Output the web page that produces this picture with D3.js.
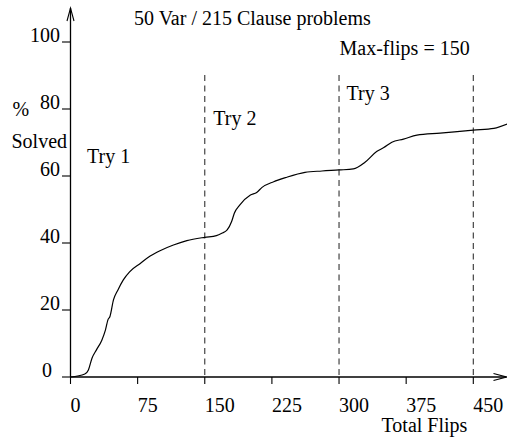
<!DOCTYPE html>
<html>
<head>
<meta charset="utf-8">
<script src="https://cdn.jsdelivr.net/npm/d3@7"></script>
<style>
  html, body { margin: 0; padding: 0; background: #fff; }
  svg { display: block; }
  text { font-family: "Liberation Serif", "Times New Roman", serif; font-size: 20px; fill: #000; }
</style>
</head>
<body>
<svg id="chart" width="507" height="443"></svg>
<script>
// ---- data ----
const flips = [0, 16, 20, 24, 29, 35, 39, 42, 44, 48, 53, 59, 66, 78, 89, 100, 115, 130, 150,
  163, 169, 175, 180, 183, 189, 201, 208, 214, 227, 240, 262, 281, 300,
  316, 329, 342, 350, 359, 372, 387, 413, 450, 473, 488];
const solved = [0, 0.9, 2.1, 5.6, 8.1, 11, 14, 17.2, 18, 23, 26, 29, 31.4, 33.9, 36.1, 37.7, 39.4, 40.7, 41.7,
  42.2, 42.9, 43.9, 46.4, 48.9, 51.3, 54.3, 55.1, 56.6, 58.3, 59.5, 61.1, 61.5, 61.8,
  62.1, 64.1, 67.3, 68.5, 70.1, 71.0, 72.2, 72.8, 73.7, 74.2, 75.5];
const xTicks = [0, 75, 150, 225, 300, 375, 450];
const yTicks = [0, 20, 40, 60, 80, 100];
const tryBounds = [150, 300, 450];
const tryLabels = ["Try 1", "Try 2", "Try 3"];
const titleText = "50 Var / 215 Clause problems";
const maxFlipsText = "Max-flips = 150";
const xTitle = "Total Flips";
const yTitle = ["%", "Solved"];

// ---- layout ----
const svg = d3.select("#chart");
const x = d3.scaleLinear().domain([0, 450]).range([70.5, 473.3]);
const y = d3.scaleLinear().domain([0, 100]).range([377, 42]);
const xEnd = 506.5, yTop = 8;

// dashed try boundaries
svg.selectAll("line.try").data(tryBounds).enter().append("line")
  .attr("x1", d => x(d)).attr("x2", d => x(d))
  .attr("y1", 75).attr("y2", y(0))
  .attr("stroke", "#333").attr("stroke-width", 1.1)
  .attr("stroke-dasharray", "6,4.5");

// axes lines
svg.append("line").attr("x1", x(0)).attr("x2", xEnd).attr("y1", y(0)).attr("y2", y(0))
  .attr("stroke", "#000").attr("stroke-width", 1.3);
svg.append("line").attr("x1", x(0)).attr("x2", x(0)).attr("y1", y(0)).attr("y2", yTop)
  .attr("stroke", "#000").attr("stroke-width", 1.3);
// arrowheads (open)
svg.append("path").attr("d", `M${xEnd - 13},${y(0) - 3.5} L${xEnd},${y(0)} L${xEnd - 13},${y(0) + 3.5}`)
  .attr("fill", "none").attr("stroke", "#000").attr("stroke-width", 1.1);
svg.append("path").attr("d", `M${x(0) - 3.5},${yTop + 13} L${x(0)},${yTop} L${x(0) + 3.5},${yTop + 13}`)
  .attr("fill", "none").attr("stroke", "#000").attr("stroke-width", 1.1);

// x ticks
svg.selectAll("line.xt").data(xTicks).enter().append("line")
  .attr("x1", d => x(d)).attr("x2", d => x(d))
  .attr("y1", y(0)).attr("y2", y(0) + 7)
  .attr("stroke", "#000").attr("stroke-width", 1.1);
svg.selectAll("text.xl").data(xTicks).enter().append("text")
  .attr("x", d => x(d)).attr("y", 412)
  .attr("text-anchor", "start").text(d => d);

// y ticks
svg.selectAll("line.yt").data(yTicks).enter().append("line")
  .attr("x1", x(0) - 8.5).attr("x2", x(0))
  .attr("y1", d => y(d)).attr("y2", d => y(d))
  .attr("stroke", "#000").attr("stroke-width", 1.1);
svg.selectAll("text.yl").data(yTicks).enter().append("text")
  .attr("y", d => y(d))
  .text(d => d)
  .each(function () {
    const w = this.getComputedTextLength();
    d3.select(this).attr("x", Math.min(42, 60 - w));
  });

// curve
const pts = flips.map((f, i) => [f, solved[i]]);
svg.append("path").datum(pts)
  .attr("d", d3.line().x(d => x(d[0])).y(d => y(d[1])).curve(d3.curveMonotoneX))
  .attr("fill", "none").attr("stroke", "#000").attr("stroke-width", 1.2);

// texts
svg.append("text").attr("x", 134).attr("y", 25).text(titleText);
svg.append("text").attr("x", 339.5).attr("y", 55).text(maxFlipsText);
const tryPos = [[x(18.5), 163], [x(150) + 8.5, 125], [x(300) + 7.5, 100]];
svg.selectAll("text.try").data(tryLabels).enter().append("text")
  .attr("x", (d, i) => tryPos[i][0]).attr("y", (d, i) => tryPos[i][1]).text(d => d);
svg.append("text").attr("x", 381.5).attr("y", 432).text(xTitle);
svg.append("text").attr("x", 12.5).attr("y", 116).text(yTitle[0]);
svg.append("text").attr("x", 11.5).attr("y", 148).text(yTitle[1]);
</script>
</body>
</html>
